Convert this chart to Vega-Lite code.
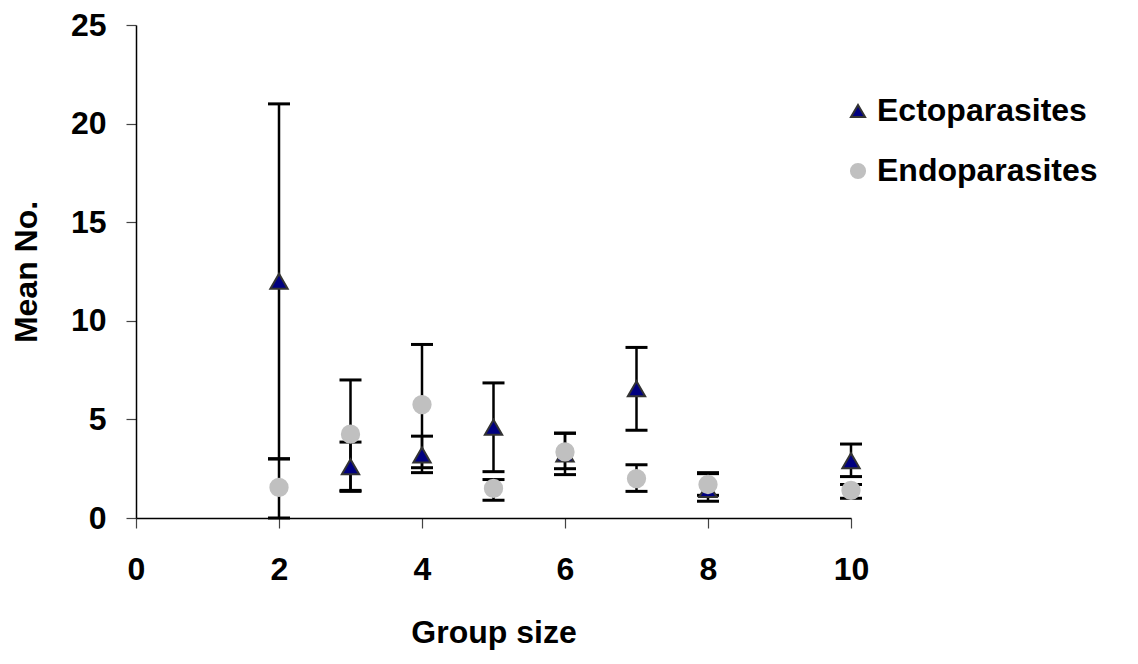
{
  "$schema": "https://vega.github.io/schema/vega-lite/v6.json",
  "width": 715,
  "height": 493,
  "autosize": {"type": "none"},
  "padding": {"left": 136, "top": 25, "right": 287, "bottom": 146},
  "background": "white",
  "config": {
    "view": {"stroke": null},
    "font": "Liberation Sans"
  },
  "data": {
    "values": [
      {"group": 2, "series": "Ectoparasites", "mean": 12.0, "lo": 3.0, "hi": 21.0},
      {"group": 3, "series": "Ectoparasites", "mean": 2.6, "lo": 1.35, "hi": 3.85},
      {"group": 4, "series": "Ectoparasites", "mean": 3.2, "lo": 2.3, "hi": 4.15},
      {"group": 5, "series": "Ectoparasites", "mean": 4.6, "lo": 2.35, "hi": 6.85},
      {"group": 6, "series": "Ectoparasites", "mean": 3.25, "lo": 2.2, "hi": 4.3},
      {"group": 7, "series": "Ectoparasites", "mean": 6.55, "lo": 4.45, "hi": 8.65},
      {"group": 8, "series": "Ectoparasites", "mean": 1.45, "lo": 0.85, "hi": 2.3},
      {"group": 10, "series": "Ectoparasites", "mean": 2.9, "lo": 2.1, "hi": 3.75},
      {"group": 2, "series": "Endoparasites", "mean": 1.55, "lo": 0.0, "hi": 3.0},
      {"group": 3, "series": "Endoparasites", "mean": 4.25, "lo": 1.4, "hi": 7.0},
      {"group": 4, "series": "Endoparasites", "mean": 5.75, "lo": 2.55, "hi": 8.8},
      {"group": 5, "series": "Endoparasites", "mean": 1.5, "lo": 0.9, "hi": 1.95},
      {"group": 6, "series": "Endoparasites", "mean": 3.35, "lo": 2.5, "hi": 4.3},
      {"group": 7, "series": "Endoparasites", "mean": 2.0, "lo": 1.35, "hi": 2.7},
      {"group": 8, "series": "Endoparasites", "mean": 1.7, "lo": 1.15, "hi": 2.25},
      {"group": 10, "series": "Endoparasites", "mean": 1.4, "lo": 1.0, "hi": 1.7}
    ]
  },
  "layer": [
    {
      "mark": {"type": "rule", "color": "black", "strokeWidth": 2.5, "clip": false},
      "encoding": {
        "x": {"field": "group", "type": "quantitative",
          "scale": {"domain": [0, 10], "nice": false, "zero": false},
          "axis": {"values": [0, 2, 4, 6, 8, 10], "format": "d", "title": "Group size", "labelFlush": false,
            "grid": false, "domainColor": "black", "domainWidth": 1.5, "tickColor": "#444444", "tickWidth": 1.2, "tickSize": 10,
            "labelFont": "Liberation Sans", "labelFontSize": 32, "labelFontWeight": "bold", "labelColor": "black", "labelPadding": 26,
            "titleFont": "Liberation Sans", "titleFontSize": 32, "titleFontWeight": "bold", "titleColor": "black", "titlePadding": 32}},
        "y": {"field": "lo", "type": "quantitative",
          "scale": {"domain": [0, 25], "nice": false},
          "axis": {"values": [0, 5, 10, 15, 20, 25], "title": "Mean No.", "labelFlush": false,
            "grid": false, "domainColor": "black", "domainWidth": 1.5, "tickColor": "#444444", "tickWidth": 1.2, "tickSize": 10,
            "labelFont": "Liberation Sans", "labelFontSize": 32, "labelFontWeight": "bold", "labelColor": "black", "labelPadding": 20,
            "titleFont": "Liberation Sans", "titleFontSize": 32, "titleFontWeight": "bold", "titleColor": "black", "titlePadding": 27}},
        "y2": {"field": "hi"}
      }
    },
    {
      "mark": {"type": "tick", "orient": "horizontal", "color": "black", "size": 22, "thickness": 3, "opacity": 1, "clip": false},
      "encoding": {
        "x": {"field": "group", "type": "quantitative"},
        "y": {"field": "lo", "type": "quantitative"}
      }
    },
    {
      "mark": {"type": "tick", "orient": "horizontal", "color": "black", "size": 22, "thickness": 3, "opacity": 1, "clip": false},
      "encoding": {
        "x": {"field": "group", "type": "quantitative"},
        "y": {"field": "hi", "type": "quantitative"}
      }
    },
    {
      "mark": {"type": "point", "filled": true, "opacity": 1, "strokeWidth": 2, "size": 300, "clip": false},
      "encoding": {
        "x": {"field": "group", "type": "quantitative"},
        "y": {"field": "mean", "type": "quantitative"},
        "shape": {"field": "series", "type": "nominal",
          "scale": {"domain": ["Ectoparasites", "Endoparasites"], "range": ["triangle-up", "circle"]},
          "legend": {"title": null, "orient": "none", "legendX": 706, "legendY": 70, "symbolSize": 200, "symbolStrokeWidth": 2,
            "rowPadding": 28, "labelOffset": 3, "labelLimit": 400, "labelFont": "Liberation Sans", "labelFontSize": 32, "labelFontWeight": "bold", "labelColor": "black"}},
        "fill": {"field": "series", "type": "nominal",
          "scale": {"domain": ["Ectoparasites", "Endoparasites"], "range": ["#000080", "#C0C0C0"]}},
        "stroke": {"field": "series", "type": "nominal",
          "scale": {"domain": ["Ectoparasites", "Endoparasites"], "range": ["#333333", "#C0C0C0"]}}
      }
    }
  ]
}
